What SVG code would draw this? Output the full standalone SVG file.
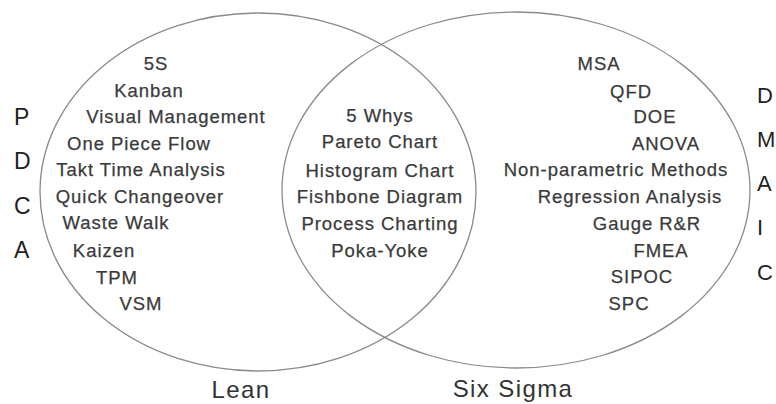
<svg xmlns="http://www.w3.org/2000/svg" width="776" height="404" viewBox="0 0 776 404">
<style>
.ring{fill:none;stroke:#8a8a8a;stroke-width:1.3}
.t{font-family:"Liberation Sans",Arial,sans-serif;font-size:18.5px;letter-spacing:0.95px;fill:#3a3a3a;stroke:#3a3a3a;stroke-width:0.25;text-anchor:middle}
.big{font-family:"Liberation Sans",Arial,sans-serif;font-size:23px;fill:#222}
.big2{font-family:"Liberation Sans",Arial,sans-serif;font-size:22px;fill:#222}
.lbl{font-family:"Liberation Sans",Arial,sans-serif;font-size:24px;letter-spacing:1.4px;fill:#333;text-anchor:middle}
</style>
<rect width="776" height="404" fill="#fff"/>
<g id="lean">
<ellipse class="ring" cx="258" cy="192" rx="218" ry="179"/>
<text class="t" x="156" y="70">5S</text>
<text class="t" x="149" y="97">Kanban</text>
<text class="t" x="176" y="123">Visual Management</text>
<text class="t" x="139" y="150">One Piece Flow</text>
<text class="t" x="141" y="176">Takt Time Analysis</text>
<text class="t" x="140" y="203">Quick Changeover</text>
<text class="t" x="116" y="229">Waste Walk</text>
<text class="t" x="104" y="257">Kaizen</text>
<text class="t" x="117" y="284">TPM</text>
<text class="t" x="141" y="310">VSM</text>
<text class="lbl" x="241" y="398">Lean</text>
</g>
<g id="sixsigma">
<ellipse class="ring" cx="516" cy="190" rx="234" ry="178"/>
<text class="t" x="599" y="70">MSA</text>
<text class="t" x="631" y="98">QFD</text>
<text class="t" x="655" y="123">DOE</text>
<text class="t" x="666" y="150">ANOVA</text>
<text class="t" x="616" y="176">Non-parametric Methods</text>
<text class="t" x="630" y="203">Regression Analysis</text>
<text class="t" x="647" y="230">Gauge R&amp;R</text>
<text class="t" x="661" y="257">FMEA</text>
<text class="t" x="642" y="283">SIPOC</text>
<text class="t" x="629" y="310">SPC</text>
<text class="lbl" x="513" y="397">Six Sigma</text>
</g>
<g id="overlap">
<text class="t" x="380" y="122">5 Whys</text>
<text class="t" x="380" y="148">Pareto Chart</text>
<text class="t" x="380" y="177">Histogram Chart</text>
<text class="t" x="380" y="203">Fishbone Diagram</text>
<text class="t" x="380" y="230">Process Charting</text>
<text class="t" x="380" y="257">Poka-Yoke</text>
</g>
<g id="pdca">
<text class="big" x="14" y="125">P</text>
<text class="big" x="14" y="169">D</text>
<text class="big" x="14" y="214">C</text>
<text class="big" x="14" y="258">A</text>
</g>
<g id="dmaic">
<text class="big2" x="757" y="103">D</text>
<text class="big2" x="757" y="147">M</text>
<text class="big2" x="757" y="191">A</text>
<text class="big2" x="757" y="235">I</text>
<text class="big2" x="757" y="280">C</text>
</g>
<g id="connectors"/>
</svg>
